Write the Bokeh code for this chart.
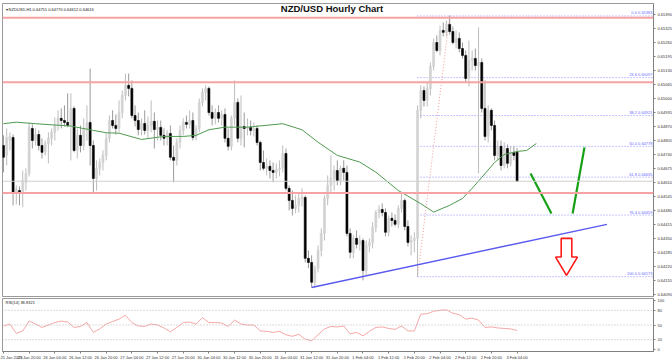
from bokeh.plotting import figure
from bokeh.models import Range1d, FixedTicker, Label, Span, ColumnDataSource, NumeralTickFormatter
from bokeh.layouts import column
from bokeh.embed import file_html
from bokeh.resources import INLINE

# ---------------- data (hourly NZD/USD candles) ----------------
opens = [0.64782, 0.64736, 0.64805, 0.64819, 0.64564, 0.64573, 0.64564, 0.64611, 0.64652, 0.64861,
         0.64805, 0.64833, 0.64782, 0.64750, 0.64791, 0.64815, 0.64843, 0.64875, 0.64908, 0.64898,
         0.64889, 0.64875, 0.64954, 0.64759, 0.64829, 0.64782, 0.64861, 0.64889, 0.64782, 0.64629,
         0.64676, 0.64703, 0.64736, 0.64815, 0.64898, 0.64875, 0.64861, 0.64935, 0.65014, 0.65061,
         0.65047, 0.64921, 0.64898, 0.64856, 0.64884, 0.64852, 0.64875, 0.64894, 0.64856, 0.64866,
         0.64829, 0.64815, 0.64838, 0.64727, 0.64713, 0.64796, 0.64852, 0.64889, 0.64880, 0.64898,
         0.64824, 0.64861, 0.64982, 0.65028, 0.65047, 0.64935, 0.64908, 0.64935, 0.64908, 0.64926,
         0.64815, 0.64778, 0.64908, 0.64982, 0.64815, 0.64870, 0.64861, 0.64866, 0.64852, 0.64861,
         0.64796, 0.64703, 0.64676, 0.64685, 0.64666, 0.64657, 0.64671, 0.64676, 0.64745, 0.64583,
         0.64527, 0.64490, 0.64504, 0.64536, 0.64541, 0.64258, 0.64239, 0.64147, 0.64212, 0.64295,
         0.64374, 0.64536, 0.64597, 0.64629, 0.64666, 0.64620, 0.64676, 0.64657, 0.64374, 0.64286,
         0.64351, 0.64323, 0.64341, 0.64202, 0.64318, 0.64332, 0.64402, 0.64471, 0.64485, 0.64471,
         0.64379, 0.64444, 0.64434, 0.64416, 0.64490, 0.64527, 0.64406, 0.64332, 0.64341, 0.64351,
         0.64945, 0.65037, 0.64991, 0.65047, 0.65149, 0.65260, 0.65223, 0.65316, 0.65307, 0.65344,
         0.65311, 0.65260, 0.65279, 0.65232, 0.65200, 0.65093, 0.65177, 0.65186, 0.65153, 0.65167,
         0.64954, 0.64824, 0.64945, 0.64875, 0.64736, 0.64778, 0.64689, 0.64768, 0.64699, 0.64750,
         0.64751]
highs = [0.64829, 0.64861, 0.64843, 0.64833, 0.64597, 0.64592, 0.64666, 0.64676, 0.64889, 0.64880,
         0.64861, 0.64852, 0.64815, 0.64805, 0.64843, 0.64861, 0.64912, 0.64945, 0.64954, 0.64968,
         0.65024, 0.65024, 0.64963, 0.64861, 0.64875, 0.64908, 0.64968, 0.65139, 0.64805, 0.64713,
         0.64722, 0.64759, 0.64838, 0.64921, 0.64945, 0.64926, 0.64991, 0.65037, 0.65116, 0.65116,
         0.65084, 0.64968, 0.64935, 0.64908, 0.64945, 0.64917, 0.64991, 0.64935, 0.64898, 0.64898,
         0.64861, 0.64852, 0.64875, 0.64782, 0.64815, 0.64875, 0.64908, 0.64921, 0.64945, 0.64935,
         0.64875, 0.65000, 0.65047, 0.65061, 0.65056, 0.64968, 0.64954, 0.64968, 0.64945, 0.64954,
         0.64861, 0.64921, 0.65084, 0.65000, 0.65014, 0.64935, 0.64908, 0.64898, 0.64889, 0.64875,
         0.64805, 0.64759, 0.64722, 0.64713, 0.64703, 0.64699, 0.64713, 0.64782, 0.64768, 0.64597,
         0.64573, 0.64550, 0.64564, 0.64583, 0.64550, 0.64295, 0.64272, 0.64225, 0.64318, 0.64397,
         0.64550, 0.64643, 0.64736, 0.64689, 0.64713, 0.64689, 0.64713, 0.64689, 0.64397, 0.64365,
         0.64388, 0.64365, 0.64351, 0.64341, 0.64351, 0.64425, 0.64481, 0.64504, 0.64513, 0.64490,
         0.64457, 0.64471, 0.64462, 0.64504, 0.64564, 0.64536, 0.64434, 0.64365, 0.64379, 0.64968,
         0.65061, 0.65056, 0.65075, 0.65167, 0.65279, 0.65293, 0.65339, 0.65353, 0.65362, 0.65385,
         0.65334, 0.65316, 0.65307, 0.65260, 0.65223, 0.65269, 0.65223, 0.65232, 0.65330, 0.65186,
         0.65084, 0.64968, 0.64954, 0.64898, 0.64805, 0.64805, 0.64796, 0.64787, 0.64778, 0.64778,
         0.64770]
lows = [0.64657, 0.64689, 0.64759, 0.64504, 0.64508, 0.64504, 0.64495, 0.64573, 0.64638, 0.64768,
        0.64782, 0.64759, 0.64722, 0.64736, 0.64699, 0.64782, 0.64805, 0.64852, 0.64861, 0.64870,
        0.64866, 0.64713, 0.64750, 0.64722, 0.64750, 0.64759, 0.64805, 0.64689, 0.64564, 0.64573,
        0.64643, 0.64666, 0.64713, 0.64796, 0.64861, 0.64833, 0.64843, 0.64908, 0.64991, 0.65010,
        0.64908, 0.64870, 0.64829, 0.64829, 0.64833, 0.64815, 0.64843, 0.64768, 0.64805, 0.64805,
        0.64782, 0.64782, 0.64713, 0.64611, 0.64689, 0.64768, 0.64829, 0.64861, 0.64861, 0.64805,
        0.64805, 0.64843, 0.64963, 0.64991, 0.64921, 0.64875, 0.64880, 0.64889, 0.64875, 0.64796,
        0.64759, 0.64759, 0.64875, 0.64796, 0.64782, 0.64773, 0.64829, 0.64829, 0.64824, 0.64782,
        0.64666, 0.64666, 0.64643, 0.64629, 0.64611, 0.64629, 0.64638, 0.64657, 0.64573, 0.64481,
        0.64457, 0.64467, 0.64471, 0.64499, 0.64239, 0.64212, 0.64123, 0.64123, 0.64193, 0.64267,
        0.64341, 0.64504, 0.64564, 0.64573, 0.64597, 0.64597, 0.64620, 0.64360, 0.64258, 0.64258,
        0.64304, 0.64295, 0.64156, 0.64179, 0.64286, 0.64304, 0.64379, 0.64444, 0.64453, 0.64360,
        0.64360, 0.64406, 0.64406, 0.64397, 0.64471, 0.64388, 0.64314, 0.64272, 0.64286, 0.64173,
        0.64908, 0.64963, 0.64963, 0.65014, 0.65130, 0.65214, 0.65200, 0.65288, 0.65288, 0.65297,
        0.65251, 0.65232, 0.65214, 0.65186, 0.65075, 0.65056, 0.65130, 0.65130, 0.64652, 0.64935,
        0.64805, 0.64796, 0.64852, 0.64713, 0.64713, 0.64666, 0.64676, 0.64676, 0.64685, 0.64713,
        0.64612]
closes = [0.64727, 0.64819, 0.64824, 0.64564, 0.64578, 0.64564, 0.64620, 0.64652, 0.64866, 0.64805,
          0.64833, 0.64782, 0.64750, 0.64791, 0.64815, 0.64843, 0.64875, 0.64908, 0.64898, 0.64889,
          0.64875, 0.64954, 0.64759, 0.64829, 0.64782, 0.64861, 0.64889, 0.64782, 0.64629, 0.64676,
          0.64703, 0.64736, 0.64815, 0.64898, 0.64875, 0.64861, 0.64935, 0.65014, 0.65061, 0.65047,
          0.64921, 0.64898, 0.64856, 0.64884, 0.64852, 0.64875, 0.64894, 0.64856, 0.64866, 0.64829,
          0.64815, 0.64838, 0.64727, 0.64713, 0.64796, 0.64852, 0.64889, 0.64880, 0.64898, 0.64819,
          0.64861, 0.64982, 0.65028, 0.65047, 0.64935, 0.64908, 0.64935, 0.64908, 0.64926, 0.64815,
          0.64778, 0.64908, 0.64982, 0.64815, 0.64870, 0.64861, 0.64866, 0.64852, 0.64861, 0.64796,
          0.64703, 0.64676, 0.64685, 0.64666, 0.64657, 0.64671, 0.64676, 0.64745, 0.64583, 0.64527,
          0.64490, 0.64504, 0.64536, 0.64541, 0.64258, 0.64239, 0.64147, 0.64212, 0.64295, 0.64374,
          0.64536, 0.64597, 0.64629, 0.64666, 0.64620, 0.64676, 0.64657, 0.64374, 0.64286, 0.64351,
          0.64323, 0.64341, 0.64202, 0.64318, 0.64332, 0.64402, 0.64471, 0.64485, 0.64471, 0.64379,
          0.64444, 0.64434, 0.64416, 0.64490, 0.64527, 0.64406, 0.64332, 0.64341, 0.64351, 0.64945,
          0.65037, 0.64991, 0.65047, 0.65149, 0.65260, 0.65223, 0.65316, 0.65307, 0.65344, 0.65311,
          0.65260, 0.65279, 0.65232, 0.65200, 0.65093, 0.65177, 0.65186, 0.65153, 0.65167, 0.64954,
          0.64824, 0.64945, 0.64875, 0.64736, 0.64778, 0.64689, 0.64768, 0.64699, 0.64750, 0.64736,
          0.64616]

# moving average (green), read at selected bars
ma_idx = [0, 4, 10, 21, 28, 32, 36, 43, 50, 56, 60, 64, 69, 76, 87, 93, 98, 104, 111, 116,
          123, 130, 134, 139, 143, 146, 149, 153, 156, 160, 163, 166]
ma_val = [0.64883, 0.64890, 0.64883, 0.64872, 0.64852, 0.64841, 0.64839, 0.64810, 0.64824, 0.64824,
          0.64829, 0.64855, 0.64867, 0.64867, 0.64883, 0.64855, 0.64797, 0.64736, 0.64705, 0.64658,
          0.64573, 0.64512, 0.64473, 0.64504, 0.64536, 0.64583, 0.64634, 0.64703, 0.64740, 0.64754,
          0.64759, 0.64791]

# RSI(14), read every second bar
rsi_idx = list(range(0, 161, 2))
rsi_val = [48, 52, 33, 38, 58, 52, 45, 50, 55, 58, 56, 45, 47, 55, 35, 42, 52, 57, 62, 70,
           55, 48, 47, 52, 50, 44, 36, 45, 55, 56, 52, 65, 55, 55, 54, 47, 60, 52, 50, 50,
           38, 37, 35, 37, 30, 27, 31, 21, 18, 30, 42, 47, 46, 48, 32, 35, 28, 37, 45, 46,
           43, 41, 48, 38, 38, 72, 73, 78, 80, 81, 74, 71, 62, 64, 60, 45, 46, 44, 43, 42,
           38.83]
rsi_title = "RSI(14) 38.8321"

price_ticks = [0.65390, 0.65325, 0.65260, 0.65195, 0.65130, 0.65065, 0.65000, 0.64935, 0.64870,
               0.64805, 0.64740, 0.64675, 0.64610, 0.64545, 0.64480, 0.64415, 0.64350, 0.64285,
               0.64220, 0.64155, 0.64090]
time_ticks = list(range(0, 161, 8))
time_labels = ["25 Jan 2023", "25 Jan 20:00", "26 Jan 04:00", "26 Jan 12:00", "26 Jan 20:00",
               "27 Jan 04:00", "27 Jan 12:00", "27 Jan 20:00", "30 Jan 04:00", "30 Jan 12:00",
               "30 Jan 20:00", "31 Jan 04:00", "31 Jan 12:00", "31 Jan 20:00", "1 Feb 04:00",
               "1 Feb 12:00", "1 Feb 20:00", "2 Feb 04:00", "2 Feb 12:00", "2 Feb 20:00",
               "3 Feb 04:00"]
rsi_ticks = [0, 20, 50, 80, 100]
rsi_levels = [20, 50, 80]

sr_levels = [0.65375, 0.65075, 0.64561]          # red horizontal levels
bid_price = 0.64616
fib_pct = ["0.0", "23.6", "38.2", "50.0", "61.8", "76.4", "100.0"]
fib_val = [0.65383, 0.65097, 0.64921, 0.64778, 0.64635, 0.64459, 0.64173]
fib_low_bar, fib_high_bar = 129, 139
trend_bars = [96, 188]
trend_vals = [0.64123, 0.64416]
green1_bars = [164.2, 170.7]
green1_vals = [0.64652, 0.64466]
green2_bars = [177.3, 181.0]
green2_vals = [0.64466, 0.64773]
arrow_bar = 175.4
arrow_tip, arrow_neck, arrow_top = 0.64179, 0.64264, 0.64351

FONT = "Liberation Sans"

# ---------------- price panel ----------------
X0, X1 = -0.3, 202.5
Y0, Y1 = 0.64081, 0.65441

n = len(closes)
idx = list(range(n))
up = [c >= o for o, c in zip(opens, closes)]
src = ColumnDataSource(dict(
    x=idx, o=opens, h=highs, l=lows, c=closes,
    top=[max(o, c) for o, c in zip(opens, closes)],
    bot=[min(o, c) for o, c in zip(opens, closes)],
    fill=["#d2d2d2" if u else "#000000" for u in up],
    wick=["#bdbdbd" if u else "#9a9a9a" for u in up],
))

p = figure(frame_width=651, frame_height=293, x_range=Range1d(X0, X1), y_range=Range1d(Y0, Y1),
           output_backend="svg", toolbar_location=None, y_axis_location="right",
           min_border_left=2, min_border_top=3, min_border_bottom=1, min_border_right=0)
p.xaxis.visible = False
p.grid.visible = False
p.outline_line_color = "#9a9a9a"
p.background_fill_color = "white"
ax = p.yaxis[0]
ax.ticker = FixedTicker(ticks=price_ticks)
ax.formatter = NumeralTickFormatter(format="0.00000")
ax.major_label_text_font_size = "4px"
ax.major_label_text_font = FONT
ax.major_label_text_color = "#333333"
ax.major_tick_out = 2
ax.major_tick_in = 0
ax.minor_tick_out = 0
ax.minor_tick_in = 0
ax.major_label_standoff = 2
ax.axis_line_color = "#808080"
ax.major_tick_line_color = "#808080"

for lvl in sr_levels:
    p.add_layout(Span(location=lvl, dimension="width", line_color="#f7a3a3", line_width=2))
p.add_layout(Span(location=bid_price, dimension="width", line_color="#d0d0d0", line_width=1))

# fib levels
p.segment(x0=[fib_low_bar] * len(fib_val), y0=fib_val, x1=[X1] * len(fib_val), y1=fib_val,
          line_color="#8c8cff", line_width=1, line_dash="1 2")
p.line(x=[fib_low_bar, fib_high_bar], y=[fib_val[-1], fib_val[0]],
       line_color="#f29a9a", line_width=1, line_dash="1 2")
for pct, v in zip(fib_pct, fib_val):
    p.add_layout(Label(x=X1, y=v, text=f"{pct} {v:.5f}", x_offset=-1, y_offset=0.5,
                       text_align="right", text_baseline="bottom", text_font_size="4px",
                       text_font=FONT, text_color="#6a6aff"))

# candles
p.segment(x0="x", y0="l", x1="x", y1="h", line_color="wick", line_width=1, source=src)
p.vbar(x="x", width=0.62, top="top", bottom="bot", fill_color="fill", line_color="fill",
       line_width=0.6, source=src)

# moving average
p.line(x=ma_idx, y=ma_val, line_color="#4f9a4f", line_width=1)

# trend line and drawings
p.line(x=trend_bars, y=trend_vals, line_color="#5a5af0", line_width=1.4)
p.line(x=green1_bars, y=green1_vals, line_color="#16a016", line_width=2.2)
p.line(x=green2_bars, y=green2_vals, line_color="#16a016", line_width=2.2)
hw, sw = 3.4, 1.65
p.patch(x=[arrow_bar - sw, arrow_bar + sw, arrow_bar + sw, arrow_bar + hw, arrow_bar,
           arrow_bar - hw, arrow_bar - sw],
        y=[arrow_top, arrow_top, arrow_neck, arrow_neck, arrow_tip, arrow_neck, arrow_neck],
        fill_color="white", line_color="#ff1a1a", line_width=1.6)

# price tags on the axis (drawn over the axis area)
for lvl in sr_levels:
    p.add_layout(Label(x=X1, y=lvl, text=f"{lvl:.5f}", x_offset=1, text_align="left",
                       text_baseline="middle", text_font_size="4.5px", text_font=FONT,
                       text_color="white", background_fill_color="#ff2020",
                       background_fill_alpha=1.0, padding=1))
p.add_layout(Label(x=X1, y=bid_price, text=f"{bid_price:.5f}", x_offset=1, text_align="left",
                   text_baseline="middle", text_font_size="4.5px", text_font=FONT,
                   text_color="white", background_fill_color="#000000",
                   background_fill_alpha=1.0, padding=1))

# texts
p.add_layout(Label(x=X0, y=Y1, x_offset=3, y_offset=-6,
                   text=f"\u25be NZDUSD,H1  {opens[-1]:.5f} {highs[-1]:.5f} {lows[-1]:.5f} {closes[-1]:.5f}",
                   text_align="left", text_baseline="middle", text_font_size="4px",
                   text_font=FONT, text_color="#222222"))
p.add_layout(Label(x=(X0 + X1) / 2, y=Y1, x_offset=4, y_offset=-5, text="NZD/USD Hourly Chart",
                   text_align="center", text_baseline="middle", text_font_size="9.5px",
                   text_font=FONT, text_font_style="bold", text_color="#111111"))

# ---------------- RSI panel ----------------
r = figure(frame_width=651, frame_height=53, x_range=p.x_range, y_range=Range1d(-4.1, 104.1),
           output_backend="svg", toolbar_location=None, y_axis_location="right",
           min_border_left=2, min_border_top=1, min_border_bottom=0, min_border_right=0)
r.grid.visible = False
r.outline_line_color = "#9a9a9a"
ra = r.yaxis[0]
ra.ticker = FixedTicker(ticks=rsi_ticks)
ra.major_label_text_font_size = "4px"
ra.major_label_text_font = FONT
ra.major_label_text_color = "#333333"
ra.major_tick_out = 2
ra.major_tick_in = 0
ra.minor_tick_out = 0
ra.minor_tick_in = 0
ra.major_label_standoff = 2
ra.axis_line_color = "#808080"
ra.major_tick_line_color = "#808080"
xa = r.xaxis[0]
xa.ticker = FixedTicker(ticks=time_ticks)
xa.major_label_overrides = {t: s for t, s in zip(time_ticks, time_labels)}
xa.major_label_text_font_size = "4px"
xa.major_label_text_font = FONT
xa.major_label_text_color = "#333333"
xa.major_label_text_align = "left"
xa.major_tick_out = 2
xa.major_tick_in = 0
xa.minor_tick_out = 0
xa.minor_tick_in = 0
xa.major_label_standoff = 1
xa.axis_line_color = "#808080"
xa.major_tick_line_color = "#808080"
for lv in rsi_levels:
    r.add_layout(Span(location=lv, dimension="width", line_color="#b8b8b8", line_width=1,
                      line_dash="1 2"))
r.line(x=rsi_idx, y=rsi_val, line_color="#f29292", line_width=0.8)
r.add_layout(Label(x=X0, y=104.1, x_offset=3, y_offset=-4, text=rsi_title,
                   text_align="left", text_baseline="middle", text_font_size="4px",
                   text_font=FONT, text_color="#222222"))

layout = column(p, r, spacing=0)
open("out.html", "w").write(file_html(layout, INLINE))
